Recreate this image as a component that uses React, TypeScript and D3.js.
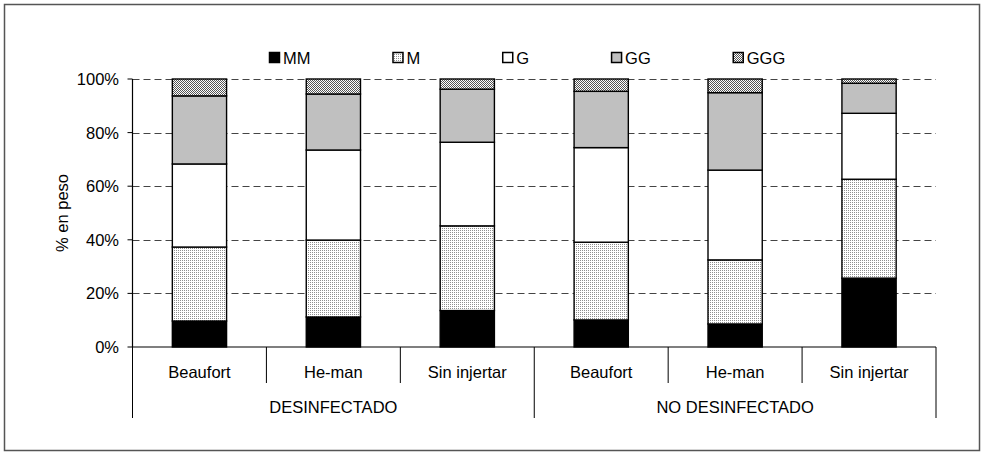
import React from "react";
import * as d3 from "d3";

const groups = ["DESINFECTADO", "NO DESINFECTADO"];
const cultivars = ["Beaufort", "He-man", "Sin injertar"];
const seriesNames = ["MM", "M", "G", "GG", "GGG"];
const valMM = [9.7, 11.2, 13.6, 10.1, 8.6, 25.7];
const valM = [27.6, 28.7, 31.6, 29.0, 23.9, 36.9];
const valG = [31.0, 33.6, 31.2, 35.3, 33.5, 24.6];
const valGG = [25.4, 20.9, 19.8, 21.0, 28.9, 11.2];
const valGGG = [6.3, 5.6, 3.8, 4.6, 5.1, 1.6];
const yTicks = [0, 0.2, 0.4, 0.6, 0.8, 1.0];
const yTitle = "% en peso";

const W = 985;
const H = 455;
const FONT = "'Liberation Sans', Arial, sans-serif";
const FS = 16.5;

const fills: Record<string, string> = {
  MM: "#000000",
  M: "url(#patM)",
  G: "#ffffff",
  GG: "#c0c0c0",
  GGG: "url(#patGGG)",
};

function measure(text: string, size: number): number {
  if (typeof document === "undefined") return text.length * size * 0.6;
  const c = document.createElement("canvas");
  const ctx = c.getContext("2d");
  if (!ctx) return text.length * size * 0.6;
  ctx.font = `${size}px 'Liberation Sans'`;
  return ctx.measureText(text).width;
}

export default function App() {
  const left = 132.5;
  const right = 936;
  const top = 79;
  const bottom = 347;

  const keys: string[] = [];
  groups.forEach((g) => cultivars.forEach((c) => keys.push(g + "|" + c)));
  const rows = keys.map((k, i) => ({
    key: k,
    MM: valMM[i],
    M: valM[i],
    G: valG[i],
    GG: valGG[i],
    GGG: valGGG[i],
  }));

  const x = d3.scaleBand<string>().domain(keys).range([left, right]);
  const xg = d3.scaleBand<string>().domain(groups).range([left, right]);
  const y = d3.scaleLinear().domain([0, 1]).range([bottom, top]);
  const stack = d3
    .stack<any>()
    .keys(seriesNames)
    .offset(d3.stackOffsetExpand);
  const layers = stack(rows);
  const bw = x.bandwidth() * 0.405;

  // legend layout
  const legY = 57.5;
  const sq = 10;
  let lx = 269;
  const legendItems = seriesNames.map((s) => {
    const item = { s, x: lx };
    lx += sq + 5 + measure(s, FS) + 81;
    return item;
  });

  return (
    <svg
      width={W}
      height={H}
      style={{ position: "absolute", left: 0, top: 0, display: "block", background: "#fff" }}
      fontFamily={FONT}
    >
      <defs>
        <pattern id="patM" width="2" height="2" patternUnits="userSpaceOnUse">
          <rect width="2" height="2" fill="#ffffff" />
          <rect width="1" height="1" fill="#8f8f8f" />
        </pattern>
        <pattern id="patGGG" width="2" height="2" patternUnits="userSpaceOnUse">
          <rect width="2" height="2" fill="#ffffff" />
          <rect width="1" height="1" fill="#555555" />
          <rect x="1" y="1" width="1" height="1" fill="#555555" />
        </pattern>
      </defs>
      <rect x={4.5} y={4.5} width={975} height={446} fill="#fff" stroke="#555" strokeWidth={1.5} />

      {/* gridlines */}
      {yTicks.filter((t) => t > 0).map((t) => (
        <line
          key={"g" + t}
          x1={left}
          x2={right}
          y1={Math.round(y(t)) + 0.5}
          y2={Math.round(y(t)) + 0.5}
          stroke="#444"
          strokeWidth={1}
          strokeDasharray="7,4"
        />
      ))}

      {/* bars */}
      {layers.map((layer) =>
        layer.map((d, i) => {
          const k = keys[i];
          const bx = (x(k) as number) + (x.bandwidth() - bw) / 2;
          return (
            <rect
              key={layer.key + k}
              x={bx}
              y={y(d[1])}
              width={bw}
              height={y(d[0]) - y(d[1])}
              fill={fills[layer.key]}
              stroke="#000"
              strokeWidth={1.4}
            />
          );
        })
      )}

      {/* y axis */}
      <line x1={left} x2={left} y1={top} y2={bottom} stroke="#000" strokeWidth={1.2} />
      {yTicks.map((t) => (
        <g key={"t" + t}>
          <line x1={left - 5} x2={left} y1={y(t)} y2={y(t)} stroke="#000" strokeWidth={1} />
          <text x={119} y={y(t) + 6} textAnchor="end" fontSize={FS} fill="#000">
            {d3.format(".0%")(t)}
          </text>
        </g>
      ))}
      <text
        transform={`translate(68,${(top + bottom) / 2}) rotate(-90)`}
        textAnchor="middle"
        fontSize={FS}
        fill="#000"
      >
        {yTitle}
      </text>

      {/* x axis */}
      <line x1={left} x2={right} y1={bottom} y2={bottom} stroke="#000" strokeWidth={1.2} />
      {keys.map((k, i) => {
        const bx = x(k) as number;
        const isGroupStart = i % cultivars.length === 0;
        return (
          <g key={"c" + k}>
            {!isGroupStart && (
              <line x1={bx} x2={bx} y1={bottom} y2={383} stroke="#000" strokeWidth={1} />
            )}
            <text x={bx + x.bandwidth() / 2} y={378} textAnchor="middle" fontSize={FS} fill="#000">
              {k.split("|")[1]}
            </text>
          </g>
        );
      })}
      {groups.map((g) => {
        const gx = xg(g) as number;
        return (
          <g key={"gr" + g}>
            <line x1={gx} x2={gx} y1={bottom} y2={418} stroke="#000" strokeWidth={1} />
            <text x={gx + xg.bandwidth() / 2} y={412.5} textAnchor="middle" fontSize={FS} fill="#000">
              {g}
            </text>
          </g>
        );
      })}
      <line x1={right} x2={right} y1={bottom} y2={418} stroke="#000" strokeWidth={1} />

      {/* legend */}
      {legendItems.map((it) => (
        <g key={"l" + it.s}>
          <rect
            x={it.x + 0.5}
            y={legY - sq / 2}
            width={sq}
            height={sq}
            fill={fills[it.s]}
            stroke="#000"
            strokeWidth={1.5}
          />
          <text x={it.x + sq + 4} y={legY + 6} fontSize={FS} fill="#000">
            {it.s}
          </text>
        </g>
      ))}
    </svg>
  );
}
